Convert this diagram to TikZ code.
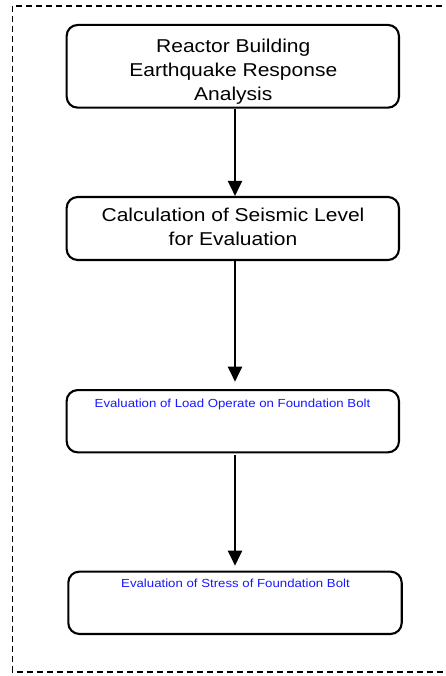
\documentclass[tikz,border=0pt]{standalone}
\usepackage{fontspec}
\usetikzlibrary{arrows.meta}
\newfontfamily\arialx[FakeStretch=1.13]{Liberation Sans}
\definecolor{txtblue}{RGB}{25,25,255}
\begin{document}
\begin{tikzpicture}[x=1pt,y=-1pt,
  box/.style={draw,line width=2.1pt,rounded corners=11pt,inner sep=0pt},
  bigtxt/.style={font=\arialx\fontsize{18.6}{24}\selectfont,align=center,inner sep=0pt,anchor=base},
  smalltxt/.style={font=\arialx\fontsize{11.7}{14}\selectfont,text=txtblue,inner sep=0pt,anchor=base},
  arr/.style={line width=2.1pt,-{Triangle[length=15pt,width=14pt]}}]
\useasboundingbox (0,0) rectangle (445,676);
\fill[white] (0,0) rectangle (445,676);
% dashed frame (right side lies beyond the picture)
\draw[line width=1.4pt,dash pattern=on 6pt off 4pt] (452,6) -- (12.3,6) -- (12.3,672) -- (452,672);
% boxes
\node[box,minimum width=332.3pt,minimum height=82.7pt] (b1) at (232.8,66.3) {};
\node[box,minimum width=332.3pt,minimum height=63pt] (b2) at (232.8,228.5) {};
\node[box,minimum width=332.3pt,minimum height=62.3pt] (b3) at (232.8,421.2) {};
\node[box,minimum width=333.4pt,minimum height=62.3pt] (b4) at (235,602.8) {};
% texts (base anchor = baseline of the last line)
\node[bigtxt] (t1) at (233.3,101) {Reactor Building\\Earthquake Response\\Analysis};
\node[bigtxt] (t2) at (233,245.5) {Calculation of Seismic Level\\for Evaluation};
\node[smalltxt] (t3) at (232.5,407.7) {Evaluation of Load Operate on Foundation Bolt};
\node[smalltxt] (t4) at (235.5,587.7) {Evaluation of Stress of Foundation Bolt};
% connectors
\coordinate (a2e) at (235,381.7);
\coordinate (a3s) at (235,455);
\coordinate (a3e) at (235,565.7);
\draw[arr] (b1.south -| a2e) -- (b2.north -| a2e);
\draw[arr] (b2.south -| a2e) -- (a2e);
\draw[arr] (a3s) -- (a3e);
\end{tikzpicture}
\end{document}
